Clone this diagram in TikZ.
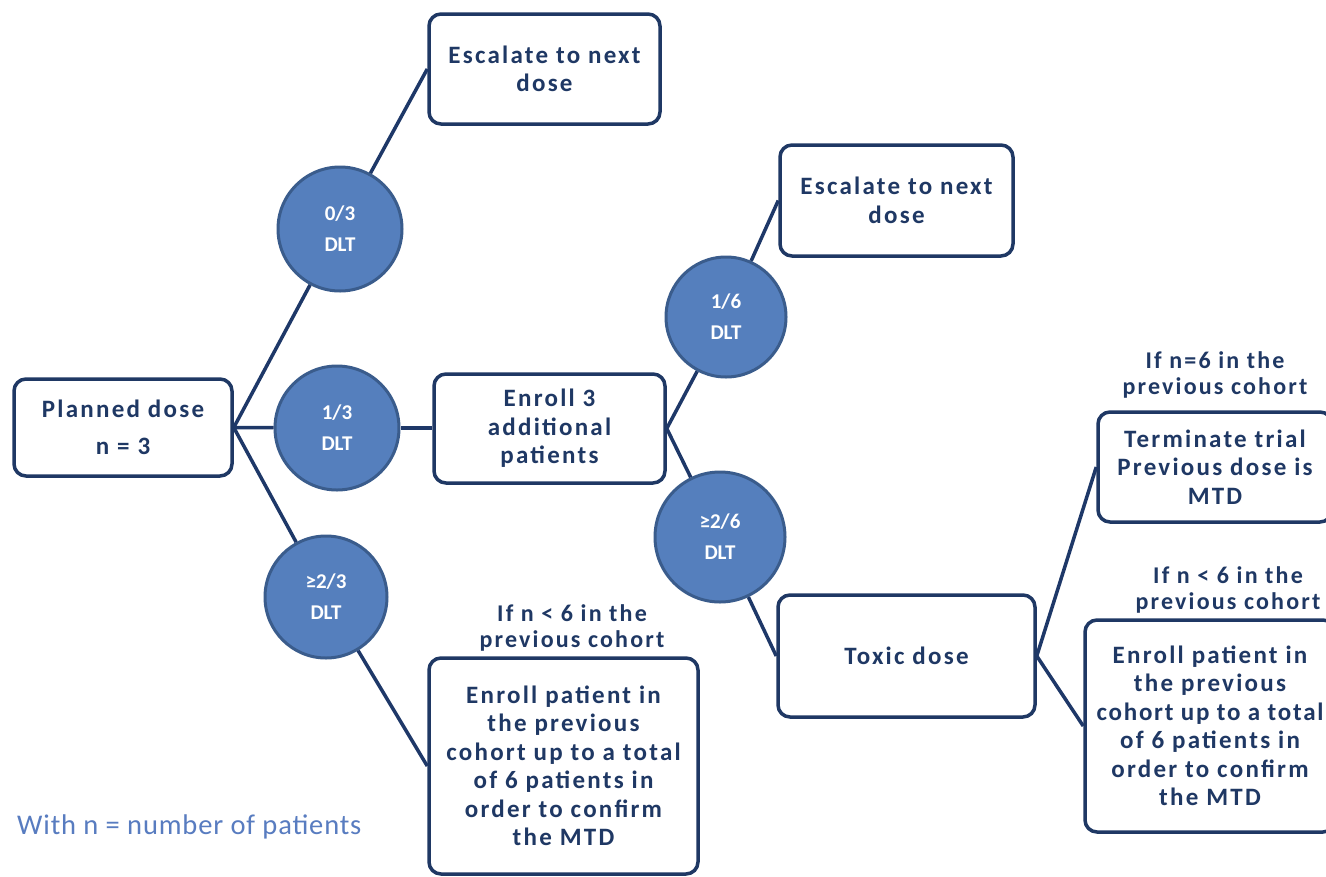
\documentclass[tikz,border=0pt]{standalone}
\usepackage{fontspec}
\setmainfont{Carlito}
\newfontfamily\boxfont[LetterSpace=9]{Carlito}
\newfontfamily\notefont[LetterSpace=3]{Carlito}
\definecolor{navy}{RGB}{31,56,100}
\definecolor{linenavy}{RGB}{30,56,104}
\definecolor{circfill}{RGB}{85,127,189}
\definecolor{circedge}{RGB}{58,92,140}
\definecolor{notecol}{RGB}{88,124,192}
\tikzset{
  flowbox/.style={draw=navy, line width=3.5pt, rounded corners=12pt, fill=white,
    text=navy, align=center, inner sep=2pt,
    font=\boxfont\bfseries\fontsize{25}{28.5}\selectfont},
  dltcirc/.style={circle, draw=circedge, line width=3pt, fill=circfill, text=white,
    align=center, inner sep=0pt, font=\bfseries\fontsize{21}{31}\selectfont},
  condlabel/.style={text=navy, align=center, inner sep=0pt,
    font=\boxfont\bfseries\fontsize{24}{26}\selectfont},
  link/.style={draw=linenavy, line width=3.5pt}
}
\begin{document}
\begin{tikzpicture}[x=1pt,y=-1pt]
\clip (0,0) rectangle (1326,876);
\fill[white] (0,0) rectangle (1326,876);

% boxes
\node[flowbox, minimum width=218pt, minimum height=97pt] (plan) at (123,427.5) {Planned dose\\[9pt]n = 3};
\node[flowbox, minimum width=231pt, minimum height=110pt] (esc1) at (544.5,69) {Escalate to next\\dose};
\node[flowbox, minimum width=231pt, minimum height=109pt] (enr3) at (549.5,428.5) {Enroll 3\\additional\\patients};
\node[flowbox, minimum width=233pt, minimum height=111pt] (esc2) at (896.5,200.5) {Escalate to next\\dose};
\node[flowbox, minimum width=257pt, minimum height=122pt] (tox) at (906.5,656) {Toxic dose};
\node[flowbox, minimum width=234pt, minimum height=110pt] (term) at (1215,467) {Terminate trial\\Previous dose is\\MTD};
\node[flowbox, minimum width=250pt, minimum height=212pt] (enrR) at (1210,726) {Enroll patient in\\the previous\\{\addfontfeature{LetterSpace=7}cohort up to a total}\\of 6 patients in\\order to confirm\\the MTD};
\node[flowbox, minimum width=269pt, minimum height=216pt] (enrL) at (563.5,766) {Enroll patient in\\the previous\\cohort up to a total\\of 6 patients in\\order to confirm\\the MTD};

% circles
\node[dltcirc, minimum size=124pt] (c03) at (340,229) {0/3\\DLT};
\node[dltcirc, minimum size=124pt] (c13) at (337,428) {1/3\\DLT};
\node[dltcirc, minimum size=122pt] (c23) at (326,597) {≥2/3\\DLT};
\node[dltcirc, minimum size=120pt] (c16) at (726,317) {1/6\\DLT};
\node[dltcirc, minimum size=130pt] (c26) at (720,537) {≥2/6\\DLT};

% condition labels
\node[condlabel] (labA) at (1215,375) {If n=6 in the\\previous cohort};
\node[condlabel] (labB) at (1228,590) {If n < 6 in the\\previous cohort};
\node[condlabel] (labC) at (572,628) {If n < 6 in the\\previous cohort};

% note
\node[anchor=west, text=notecol, inner sep=0pt, font=\notefont\fontsize{28.5}{30}\selectfont] (note) at (17,827) {With n = number of patients};

% connectors
\draw[link] (plan.east) -- (c03);
\draw[link] (plan.east) -- (c13);
\draw[link] (plan.east) -- (c23);
\draw[link] (c03) -- (esc1.west);
\draw[link] (c13.east) -- (c13.east -| enr3.west);
\draw[link] (c23) -- (enrL.west);
\draw[link] (enr3.east) -- (c16);
\draw[link] (enr3.east) -- (c26);
\draw[link] (c16) -- (esc2.west);
\draw[link] (c26) -- (tox.west);
\draw[link] (tox.east) -- (term.west);
\draw[link] (tox.east) -- (enrR.west);
\end{tikzpicture}
\end{document}
